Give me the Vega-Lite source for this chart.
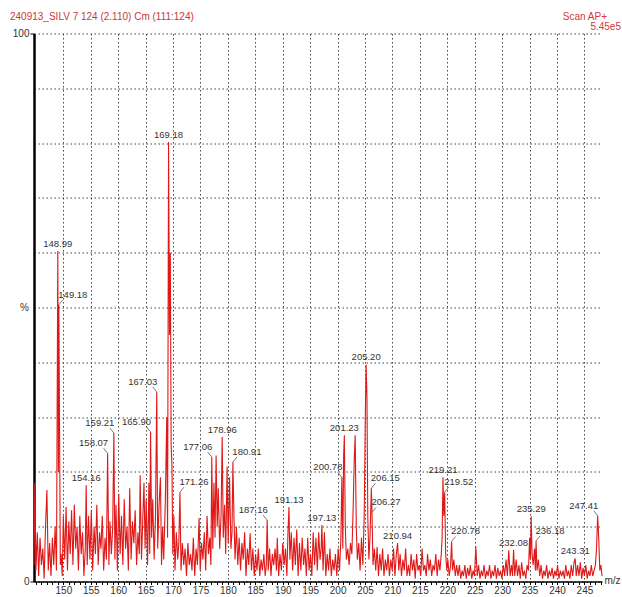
{
  "$schema": "https://vega.github.io/schema/vega-lite/v6.json",
  "width": 568,
  "height": 548,
  "autosize": "none",
  "padding": {"left": 34, "top": 33.5, "right": 20, "bottom": 15.5},
  "background": "white",
  "view": {"stroke": null},
  "config": {"font": "Liberation Sans", "text": {"font": "Liberation Sans"}},
  "datasets": {
    "spec": [
      {"m":144.65,"i":3},{"m":144.8,"i":18},{"m":145.0,"i":2},{"m":145.25,"i":9},{"m":145.5,"i":1},{"m":145.75,"i":8},{"m":146.0,"i":3},{"m":146.25,"i":6},{"m":146.5,"i":0.5},{"m":146.75,"i":10},{"m":147.0,"i":16.7},{"m":147.25,"i":2},{"m":147.5,"i":7},{"m":147.75,"i":1},{"m":148.0,"i":8},{"m":148.25,"i":3},{"m":148.5,"i":10},{"m":148.75,"i":2},{"m":148.99,"i":60.3},{"m":149.1,"i":20},{"m":149.18,"i":50.5},{"m":149.3,"i":30},{"m":149.45,"i":3},{"m":149.6,"i":5},{"m":149.8,"i":1},{"m":150.0,"i":12},{"m":150.25,"i":4},{"m":150.5,"i":13.6},{"m":150.75,"i":2},{"m":151.0,"i":11},{"m":151.25,"i":5},{"m":151.5,"i":13},{"m":151.75,"i":3},{"m":152.0,"i":14},{"m":152.25,"i":6},{"m":152.5,"i":10},{"m":152.75,"i":2},{"m":153.0,"i":12},{"m":153.25,"i":5},{"m":153.5,"i":9},{"m":153.75,"i":1},{"m":154.0,"i":6},{"m":154.16,"i":17.6},{"m":154.35,"i":3},{"m":154.6,"i":12},{"m":154.85,"i":4},{"m":155.1,"i":13},{"m":155.35,"i":2},{"m":155.6,"i":10},{"m":155.85,"i":5},{"m":156.1,"i":14},{"m":156.35,"i":3},{"m":156.6,"i":9},{"m":156.85,"i":6},{"m":157.1,"i":12},{"m":157.35,"i":2},{"m":157.6,"i":8},{"m":157.85,"i":4},{"m":158.07,"i":23.4},{"m":158.3,"i":3},{"m":158.5,"i":11},{"m":158.75,"i":5},{"m":159.0,"i":10},{"m":159.21,"i":27.1},{"m":159.4,"i":4},{"m":159.6,"i":14},{"m":159.85,"i":2},{"m":160.1,"i":16},{"m":160.35,"i":5},{"m":160.6,"i":12},{"m":160.85,"i":3},{"m":161.1,"i":15},{"m":161.35,"i":6},{"m":161.6,"i":10},{"m":161.85,"i":2},{"m":162.1,"i":17},{"m":162.35,"i":4},{"m":162.6,"i":11},{"m":162.85,"i":7},{"m":163.1,"i":13},{"m":163.35,"i":3},{"m":163.6,"i":9},{"m":163.85,"i":5},{"m":164.0,"i":19.4},{"m":164.25,"i":4},{"m":164.5,"i":12},{"m":164.7,"i":18},{"m":164.9,"i":6},{"m":165.1,"i":15},{"m":165.35,"i":3},{"m":165.6,"i":18},{"m":165.75,"i":5},{"m":165.9,"i":27.3},{"m":166.1,"i":8},{"m":166.3,"i":15},{"m":166.55,"i":4},{"m":166.8,"i":12},{"m":167.03,"i":34.6},{"m":167.2,"i":6},{"m":167.45,"i":14},{"m":167.7,"i":19},{"m":167.9,"i":3},{"m":168.1,"i":10},{"m":168.3,"i":4},{"m":168.6,"i":15},{"m":168.85,"i":30},{"m":169.0,"i":8},{"m":169.18,"i":80.2},{"m":169.35,"i":45},{"m":169.5,"i":60},{"m":169.65,"i":25},{"m":169.8,"i":21},{"m":169.95,"i":5},{"m":170.15,"i":12},{"m":170.35,"i":2},{"m":170.6,"i":9},{"m":170.85,"i":4},{"m":171.05,"i":7},{"m":171.26,"i":16.3},{"m":171.45,"i":2},{"m":171.7,"i":7},{"m":171.95,"i":3},{"m":172.2,"i":6},{"m":172.45,"i":1},{"m":172.7,"i":7},{"m":172.95,"i":3},{"m":173.2,"i":5},{"m":173.45,"i":2},{"m":173.7,"i":8},{"m":173.95,"i":1},{"m":174.2,"i":6},{"m":174.45,"i":3},{"m":174.75,"i":11.6},{"m":174.95,"i":2},{"m":175.2,"i":7},{"m":175.45,"i":4},{"m":175.7,"i":9},{"m":175.95,"i":2},{"m":176.2,"i":12},{"m":176.45,"i":5},{"m":176.7,"i":8},{"m":176.9,"i":3},{"m":177.06,"i":22.7},{"m":177.25,"i":6},{"m":177.45,"i":18},{"m":177.65,"i":8},{"m":177.85,"i":23},{"m":178.05,"i":10},{"m":178.25,"i":17},{"m":178.5,"i":6},{"m":178.75,"i":12},{"m":178.96,"i":26.4},{"m":179.15,"i":8},{"m":179.4,"i":14},{"m":179.6,"i":5},{"m":179.85,"i":21},{"m":180.05,"i":7},{"m":180.3,"i":19},{"m":180.55,"i":6},{"m":180.75,"i":9},{"m":180.91,"i":21.8},{"m":181.1,"i":12},{"m":181.3,"i":4},{"m":181.55,"i":10},{"m":181.8,"i":3},{"m":182.05,"i":8},{"m":182.3,"i":2},{"m":182.55,"i":7},{"m":182.8,"i":4},{"m":183.05,"i":9},{"m":183.3,"i":1},{"m":183.55,"i":6},{"m":183.8,"i":3},{"m":184.05,"i":8.8},{"m":184.3,"i":2},{"m":184.55,"i":6},{"m":184.8,"i":1},{"m":185.05,"i":5},{"m":185.3,"i":2},{"m":185.55,"i":6},{"m":185.8,"i":1},{"m":186.05,"i":4},{"m":186.3,"i":2},{"m":186.55,"i":5},{"m":186.8,"i":1},{"m":187.0,"i":3},{"m":187.16,"i":11.2},{"m":187.35,"i":2},{"m":187.6,"i":6},{"m":187.85,"i":1},{"m":188.1,"i":5},{"m":188.35,"i":3},{"m":188.6,"i":6},{"m":188.85,"i":2},{"m":189.0,"i":8},{"m":189.25,"i":1},{"m":189.5,"i":5},{"m":189.75,"i":2},{"m":190.0,"i":7},{"m":190.25,"i":3},{"m":190.5,"i":6},{"m":190.75,"i":1},{"m":190.95,"i":9},{"m":191.13,"i":13.6},{"m":191.3,"i":4},{"m":191.55,"i":9},{"m":191.8,"i":2},{"m":192.05,"i":8},{"m":192.3,"i":3},{"m":192.55,"i":9.5},{"m":192.8,"i":1},{"m":193.05,"i":7},{"m":193.3,"i":2},{"m":193.55,"i":8},{"m":193.8,"i":3},{"m":194.05,"i":6},{"m":194.3,"i":1},{"m":194.55,"i":8},{"m":194.8,"i":2},{"m":195.05,"i":5},{"m":195.3,"i":1},{"m":195.55,"i":9},{"m":195.8,"i":3},{"m":196.05,"i":8},{"m":196.3,"i":2},{"m":196.55,"i":9},{"m":196.8,"i":4},{"m":197.0,"i":6},{"m":197.13,"i":10.3},{"m":197.35,"i":2},{"m":197.6,"i":9},{"m":197.85,"i":1},{"m":198.1,"i":5},{"m":198.35,"i":2},{"m":198.6,"i":6},{"m":198.85,"i":1},{"m":199.1,"i":4},{"m":199.35,"i":2},{"m":199.6,"i":5},{"m":199.85,"i":1},{"m":200.1,"i":6},{"m":200.35,"i":2},{"m":200.6,"i":8},{"m":200.78,"i":19},{"m":200.95,"i":6},{"m":201.1,"i":23},{"m":201.23,"i":26.7},{"m":201.4,"i":10},{"m":201.6,"i":4},{"m":201.85,"i":6},{"m":202.1,"i":3},{"m":202.35,"i":7},{"m":202.6,"i":5},{"m":202.85,"i":14},{"m":203.05,"i":23},{"m":203.2,"i":26.7},{"m":203.4,"i":10},{"m":203.6,"i":4},{"m":203.85,"i":7},{"m":204.1,"i":2},{"m":204.35,"i":8},{"m":204.6,"i":3},{"m":204.85,"i":12},{"m":205.05,"i":30},{"m":205.2,"i":39.6},{"m":205.35,"i":33.7},{"m":205.5,"i":12},{"m":205.7,"i":4},{"m":205.9,"i":8},{"m":206.15,"i":17},{"m":206.27,"i":12.6},{"m":206.45,"i":3},{"m":206.7,"i":6},{"m":206.95,"i":2},{"m":207.2,"i":6.3},{"m":207.45,"i":1},{"m":207.7,"i":5},{"m":207.95,"i":2},{"m":208.2,"i":6},{"m":208.45,"i":1},{"m":208.7,"i":4},{"m":208.95,"i":2},{"m":209.2,"i":5},{"m":209.45,"i":1},{"m":209.7,"i":4},{"m":209.95,"i":2},{"m":210.2,"i":6},{"m":210.45,"i":1},{"m":210.7,"i":5},{"m":210.94,"i":7},{"m":211.15,"i":2},{"m":211.4,"i":5},{"m":211.65,"i":1},{"m":211.9,"i":4},{"m":212.15,"i":2},{"m":212.4,"i":6},{"m":212.65,"i":1},{"m":212.9,"i":3},{"m":213.15,"i":1},{"m":213.4,"i":5},{"m":213.65,"i":2},{"m":213.9,"i":4},{"m":214.15,"i":0.5},{"m":214.4,"i":5},{"m":214.65,"i":2},{"m":214.9,"i":3},{"m":215.15,"i":1},{"m":215.4,"i":6},{"m":215.65,"i":2},{"m":215.9,"i":3},{"m":216.15,"i":1},{"m":216.4,"i":5},{"m":216.65,"i":2},{"m":216.9,"i":4},{"m":217.15,"i":1},{"m":217.4,"i":3},{"m":217.65,"i":2},{"m":217.9,"i":5},{"m":218.15,"i":1},{"m":218.4,"i":4},{"m":218.65,"i":2},{"m":218.9,"i":5},{"m":219.05,"i":8},{"m":219.21,"i":19},{"m":219.35,"i":12},{"m":219.52,"i":16.3},{"m":219.7,"i":5},{"m":219.9,"i":2},{"m":220.1,"i":4},{"m":220.35,"i":1},{"m":220.6,"i":3},{"m":220.78,"i":7.3},{"m":220.95,"i":2},{"m":221.2,"i":4},{"m":221.45,"i":1},{"m":221.7,"i":3},{"m":221.95,"i":1},{"m":222.2,"i":3},{"m":222.45,"i":0.5},{"m":222.7,"i":2},{"m":222.95,"i":1},{"m":223.2,"i":3},{"m":223.45,"i":0.5},{"m":223.7,"i":2.5},{"m":223.95,"i":1},{"m":224.2,"i":3},{"m":224.45,"i":0.5},{"m":224.7,"i":2},{"m":224.95,"i":1},{"m":225.2,"i":6.4},{"m":225.45,"i":1},{"m":225.7,"i":3},{"m":225.95,"i":0.5},{"m":226.2,"i":2},{"m":226.45,"i":1},{"m":226.7,"i":3},{"m":226.95,"i":0.5},{"m":227.2,"i":2},{"m":227.45,"i":1},{"m":227.7,"i":3},{"m":227.95,"i":0.5},{"m":228.2,"i":2},{"m":228.45,"i":1},{"m":228.7,"i":3},{"m":228.95,"i":0.5},{"m":229.2,"i":2.5},{"m":229.45,"i":1},{"m":229.7,"i":2},{"m":229.95,"i":0.5},{"m":230.2,"i":3},{"m":230.45,"i":1},{"m":230.7,"i":4},{"m":230.95,"i":1},{"m":231.2,"i":5.7},{"m":231.45,"i":1},{"m":231.7,"i":3},{"m":231.9,"i":1},{"m":232.08,"i":5.8},{"m":232.3,"i":1},{"m":232.55,"i":4},{"m":232.8,"i":1},{"m":233.05,"i":3},{"m":233.3,"i":0.5},{"m":233.55,"i":3.5},{"m":233.8,"i":1},{"m":234.05,"i":2},{"m":234.3,"i":0.5},{"m":234.55,"i":3},{"m":234.8,"i":2},{"m":235.0,"i":8},{"m":235.15,"i":4},{"m":235.29,"i":11.9},{"m":235.45,"i":5},{"m":235.65,"i":3},{"m":235.9,"i":6},{"m":236.05,"i":2},{"m":236.18,"i":7.4},{"m":236.35,"i":2},{"m":236.6,"i":4},{"m":236.85,"i":1},{"m":237.1,"i":3},{"m":237.35,"i":0.5},{"m":237.6,"i":2},{"m":237.85,"i":1},{"m":238.1,"i":3},{"m":238.35,"i":0.5},{"m":238.6,"i":2},{"m":238.85,"i":1},{"m":239.1,"i":2.5},{"m":239.35,"i":0.5},{"m":239.6,"i":2},{"m":239.85,"i":1},{"m":240.1,"i":3},{"m":240.35,"i":0.5},{"m":240.6,"i":2},{"m":240.85,"i":1},{"m":241.1,"i":2},{"m":241.35,"i":0.5},{"m":241.6,"i":3},{"m":241.85,"i":1},{"m":242.1,"i":2},{"m":242.35,"i":0.5},{"m":242.6,"i":3},{"m":242.85,"i":1},{"m":243.1,"i":3.5},{"m":243.31,"i":4.2},{"m":243.5,"i":1},{"m":243.75,"i":3},{"m":244.0,"i":1},{"m":244.25,"i":3.5},{"m":244.5,"i":0.5},{"m":244.75,"i":2.5},{"m":245.0,"i":1},{"m":245.25,"i":3},{"m":245.5,"i":0.5},{"m":245.75,"i":2},{"m":246.0,"i":1},{"m":246.25,"i":3},{"m":246.5,"i":1},{"m":246.75,"i":2},{"m":247.0,"i":3},{"m":247.2,"i":6},{"m":247.41,"i":12},{"m":247.6,"i":8},{"m":247.8,"i":2},{"m":248.0,"i":3},{"m":248.2,"i":1}
    ],
    "peaks": [
      {"m":148.99,"i":60.3,"t":"148.99"},{"m":149.18,"i":50.5,"t":"149.18"},{"m":154.16,"i":17.6,"t":"154.16"},{"m":158.07,"i":23.4,"t":"158.07"},{"m":159.21,"i":27.1,"t":"159.21"},{"m":165.9,"i":27.3,"t":"165.90"},{"m":167.03,"i":34.6,"t":"167.03"},{"m":169.18,"i":80.2,"t":"169.18"},{"m":171.26,"i":16.3,"t":"171.26"},{"m":177.06,"i":22.7,"t":"177.06"},{"m":178.96,"i":26.4,"t":"178.96"},{"m":180.91,"i":21.8,"t":"180.91"},{"m":187.16,"i":11.2,"t":"187.16"},{"m":191.13,"i":13.6,"t":"191.13"},{"m":197.13,"i":10.3,"t":"197.13"},{"m":200.78,"i":19,"t":"200.78"},{"m":201.23,"i":26.7,"t":"201.23"},{"m":205.2,"i":39.6,"t":"205.20"},{"m":206.15,"i":17,"t":"206.15"},{"m":206.27,"i":12.6,"t":"206.27"},{"m":210.94,"i":7,"t":"210.94"},{"m":219.21,"i":19,"t":"219.21"},{"m":219.52,"i":16.3,"t":"219.52"},{"m":220.78,"i":7.3,"t":"220.78"},{"m":232.08,"i":5.8,"t":"232.08"},{"m":235.29,"i":11.9,"t":"235.29"},{"m":236.18,"i":7.4,"t":"236.18"},{"m":243.31,"i":4.2,"t":"243.31"},{"m":247.41,"i":12,"t":"247.41"}
    ],
    "header": [
      {"t": "240913_SILV 7 124 (2.110) Cm (111:124)"}
    ]
  },
  "resolve": {"axis": {"x": "independent"}},
  "layer": [
    {
      "data": {"name": "spec"},
      "mark": {"type": "line", "color": "#e01818", "strokeWidth": 1.1, "interpolate": "linear"},
      "encoding": {
        "x": {"field": "m", "type": "quantitative", "scale": {"domain": [144.65, 248.2], "nice": false, "zero": false},
          "axis": {"orient": "bottom", "values": [145,146,147,148,149,150,151,152,153,154,155,156,157,158,159,160,161,162,163,164,165,166,167,168,169,170,171,172,173,174,175,176,177,178,179,180,181,182,183,184,185,186,187,188,189,190,191,192,193,194,195,196,197,198,199,200,201,202,203,204,205,206,207,208,209,210,211,212,213,214,215,216,217,218,219,220,221,222,223,224,225,226,227,228,229,230,231,232,233,234,235,236,237,238,239,240,241,242,243,244,245,246,247,248], "labels": false, "grid": false, "domain": true, "domainColor": "#000", "domainWidth": 1.5, "ticks": true, "tickColor": "#000", "tickSize": 3, "tickWidth": 1, "title": null}},
        "y": {"field": "i", "type": "quantitative", "scale": {"domain": [0, 100], "nice": false, "zero": true},
          "axis": {"values": [0,10,20,30,40,50,60,70,80,90,100], "labelExpr": "datum.value == 0 || datum.value == 100 ? datum.label : ''", "labelFontSize": 10, "labelColor": "#333", "labelPadding": 1, "labelFont": "Liberation Sans",
            "grid": true, "gridColor": "#444", "gridDash": [1.5, 2.5], "gridWidth": 1,
            "domain": true, "domainColor": "#000", "domainWidth": 2.5,
            "tickSize": 4, "tickColor": "#000", "tickOpacity": {"condition": {"test": "datum.value == 0 || datum.value == 100", "value": 1}, "value": 0},
            "title": "%", "titleAngle": 0, "titleFontSize": 10, "titleFontWeight": "normal", "titleColor": "#333", "titleAlign": "center", "titleBaseline": "middle", "titleX": -10, "titleY": 274, "titleFont": "Liberation Sans"}}
      }
    },
    {
      "data": {"name": "peaks"},
      "transform": [{"filter": {"field": "t", "oneOf": ["148.99","169.18","154.16","178.96","191.13","197.13","201.23","205.20","210.94","219.21","232.08","235.29","243.31"]}}],
      "mark": {"type": "text", "fontSize": 9.5, "color": "#333", "align": "center", "baseline": "middle", "dy": -7, "font": "Liberation Sans"},
      "encoding": {
        "x": {"field": "m", "type": "quantitative",
          "axis": {"orient": "bottom", "values": [150,155,160,165,170,175,180,185,190,195,200,205,210,215,220,225,230,235,240,245], "grid": true, "gridColor": "#444", "gridDash": [1.5, 2.5], "gridWidth": 1, "domain": false, "ticks": false, "labelFontSize": 10, "labelColor": "#333", "labelPadding": 4, "labelFont": "Liberation Sans",
            "title": "m/z", "titleFontSize": 10, "titleFontWeight": "normal", "titleColor": "#333", "titleX": 578, "titleY": -1, "titleAlign": "center", "titleBaseline": "middle", "titleFont": "Liberation Sans"}},
        "y": {"field": "i", "type": "quantitative"},
        "text": {"field": "t"}
      }
    },
    {
      "data": {"name": "peaks"},
      "transform": [{"filter": {"field": "t", "oneOf": ["167.03","165.90","159.21","158.07","177.06","187.16","200.78","247.41"]}}],
      "mark": {"type": "text", "fontSize": 9.5, "color": "#333", "align": "center", "baseline": "middle", "dx": -14, "dy": -10, "font": "Liberation Sans"},
      "encoding": {
        "x": {"field": "m", "type": "quantitative", "axis": null},
        "y": {"field": "i", "type": "quantitative"},
        "text": {"field": "t"}
      }
    },
    {
      "data": {"name": "peaks"},
      "transform": [{"filter": {"field": "t", "oneOf": ["149.18","180.91","171.26","206.15","206.27","219.52","220.78","236.18"]}}],
      "mark": {"type": "text", "fontSize": 9.5, "color": "#333", "align": "center", "baseline": "middle", "dx": 14, "dy": -10, "font": "Liberation Sans"},
      "encoding": {
        "x": {"field": "m", "type": "quantitative", "axis": null},
        "y": {"field": "i", "type": "quantitative"},
        "text": {"field": "t"}
      }
    },
    {
      "data": {"name": "peaks"},
      "transform": [{"filter": {"field": "t", "oneOf": ["167.03","165.90","159.21","158.07","177.06","187.16","200.78","247.41"]}}],
      "mark": {"type": "rule", "color": "#555", "strokeWidth": 0.8, "x2Offset": -4, "y2Offset": -5},
      "encoding": {
        "x": {"field": "m", "type": "quantitative", "axis": null},
        "x2": {"field": "m"},
        "y": {"field": "i", "type": "quantitative"},
        "y2": {"field": "i"}
      }
    },
    {
      "data": {"name": "peaks"},
      "transform": [{"filter": {"field": "t", "oneOf": ["149.18","180.91","171.26","206.15","206.27","219.52","220.78","236.18"]}}],
      "mark": {"type": "rule", "color": "#555", "strokeWidth": 0.8, "x2Offset": 4, "y2Offset": -5},
      "encoding": {
        "x": {"field": "m", "type": "quantitative", "axis": null},
        "x2": {"field": "m"},
        "y": {"field": "i", "type": "quantitative"},
        "y2": {"field": "i"}
      }
    },
    {
      "data": {"name": "header"},
      "mark": {"type": "text", "fontSize": 10, "color": "#c8383a", "align": "left", "baseline": "middle", "dx": -24, "dy": -16.5, "font": "Liberation Sans"},
      "encoding": {
        "x": {"datum": 144.65, "type": "quantitative", "axis": null},
        "y": {"datum": 100, "type": "quantitative"},
        "text": {"field": "t"}
      }
    },
    {
      "data": {"values": [{"t": "Scan AP+"}]},
      "mark": {"type": "text", "fontSize": 10, "color": "#d03a3a", "align": "right", "baseline": "middle", "dx": 5, "dy": -16.5, "font": "Liberation Sans"},
      "encoding": {
        "x": {"datum": 248.2, "type": "quantitative", "axis": null},
        "y": {"datum": 100, "type": "quantitative"},
        "text": {"field": "t"}
      }
    },
    {
      "data": {"values": [{"t": "5.45e5"}]},
      "mark": {"type": "text", "fontSize": 10, "color": "#d03a3a", "align": "right", "baseline": "middle", "dx": 19, "dy": -6.5, "font": "Liberation Sans"},
      "encoding": {
        "x": {"datum": 248.2, "type": "quantitative", "axis": null},
        "y": {"datum": 100, "type": "quantitative"},
        "text": {"field": "t"}
      }
    }
  ]
}
